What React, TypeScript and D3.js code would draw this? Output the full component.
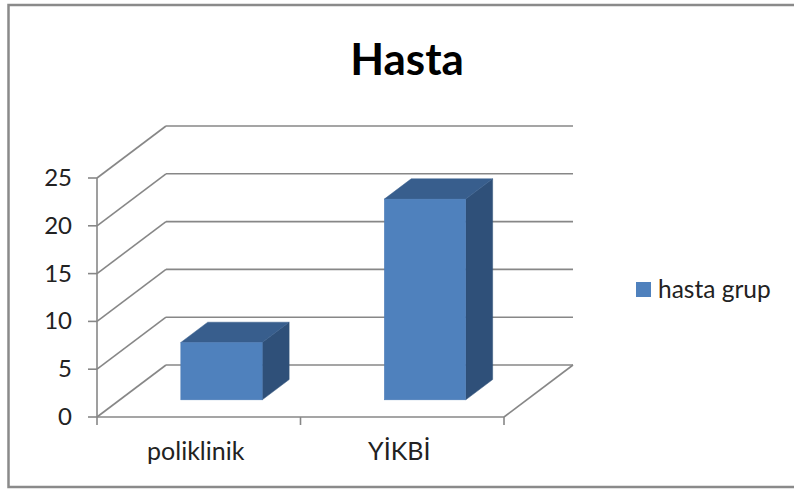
import React from "react";
import * as d3 from "d3";

const title = "Hasta";
const categories = ["poliklinik", "YİKBİ"];
const seriesName = "hasta grup";
const values = [6, 21];
const yTicks = [0, 5, 10, 15, 20, 25];

export default function App() {
  const W = 794, H = 489;
  const frontX0 = 97, frontX1 = 504;
  const y = d3.scaleLinear().domain([0, 25]).range([417, 178]);
  const x = d3.scaleBand<string>().domain(categories).range([frontX0, frontX1]).paddingInner(0).paddingOuter(0);
  const DX = 69, DY = -52; // full depth offset
  const tFront = 0.33, tBack = 0.72;
  const barW = x.bandwidth() * 0.4;
  const grid = "#878787";
  const font = "Lato, 'Open Sans', sans-serif";

  const line = (x1: number, y1: number, x2: number, y2: number, key: string) => (
    <line key={key} x1={x1} y1={y1} x2={x2} y2={y2} stroke={grid} strokeWidth={1.6} />
  );

  const pts = (arr: [number, number][]) => arr.map(p => p.join(",")).join(" ");

  return (
    <svg width={W} height={H} style={{ position: "absolute", left: 0, top: 0 }} fontFamily={font}>
      <rect x={0} y={0} width={W} height={H} fill="#fff" />
      <rect x={8.5} y={5} width={W} height={482} fill="#fff" stroke="#8a8a8a" strokeWidth={2.5} />
      <text x={407} y={75} textAnchor="middle" fontSize={44} fontWeight="bold" fill="#000">{title}</text>

      {/* left wall diagonals and back wall gridlines */}
      {yTicks.map(v => (
        <g key={"g" + v}>
          {line(frontX0, y(v), frontX0 + DX, y(v) + DY, "d" + v)}
          {line(frontX0 + DX, y(v) + DY, frontX1 + DX, y(v) + DY, "h" + v)}
        </g>
      ))}
      {/* floor */}
      {line(frontX0, y(0), frontX1, y(0), "f1")}
      {line(frontX1, y(0), frontX1 + DX, y(0) + DY, "f2")}
      {/* y axis */}
      {line(frontX0, y(25), frontX0, y(0), "ya")}
      {yTicks.map(v => line(frontX0 - 9, y(v), frontX0, y(v), "yt" + v))}
      {yTicks.map(v => (
        <text key={"yl" + v} x={72} y={y(v) + 8} textAnchor="end" fontSize={24} fill="#222">{v}</text>
      ))}
      {/* x ticks */}
      {[frontX0, ...categories.map(c => (x(c) as number) + x.bandwidth())].map((xx, i) =>
        line(xx, y(0), xx, y(0) + 8, "xt" + i)
      )}
      {categories.map(c => (
        <text key={"xl" + c} x={(x(c) as number) + x.bandwidth() / 2 - 3} y={460} textAnchor="middle" fontSize={25} fill="#222">{c}</text>
      ))}

      {/* bars */}
      {categories.map((c, i) => {
        const cx = (x(c) as number) + x.bandwidth() / 2;
        const fx0 = cx - barW / 2 + DX * tFront;
        const fx1 = fx0 + barW;
        const fyB = y(0) + DY * tFront;
        const fyT = y(values[i]) + DY * tFront;
        const ddx = DX * (tBack - tFront), ddy = DY * (tBack - tFront);
        return (
          <g key={"b" + c}>
            <polygon points={pts([[fx1, fyT], [fx1 + ddx, fyT + ddy], [fx1 + ddx, fyB + ddy], [fx1, fyB]])} fill="#2F5079" stroke="#2F5079" strokeWidth={0.5} />
            <polygon points={pts([[fx0, fyT], [fx0 + ddx, fyT + ddy], [fx1 + ddx, fyT + ddy], [fx1, fyT]])} fill="#385E8D" stroke="#385E8D" strokeWidth={0.5} />
            <rect x={fx0} y={fyT} width={barW} height={fyB - fyT} fill="#4F81BD" stroke="#4A7AB5" strokeWidth={0.5} />
          </g>
        );
      })}

      {/* legend */}
      <rect x={636} y={282} width={15} height={15} fill="#4F81BD" />
      <text x={658} y={298} fontSize={24.5} fill="#222">{seriesName}</text>
    </svg>
  );
}
